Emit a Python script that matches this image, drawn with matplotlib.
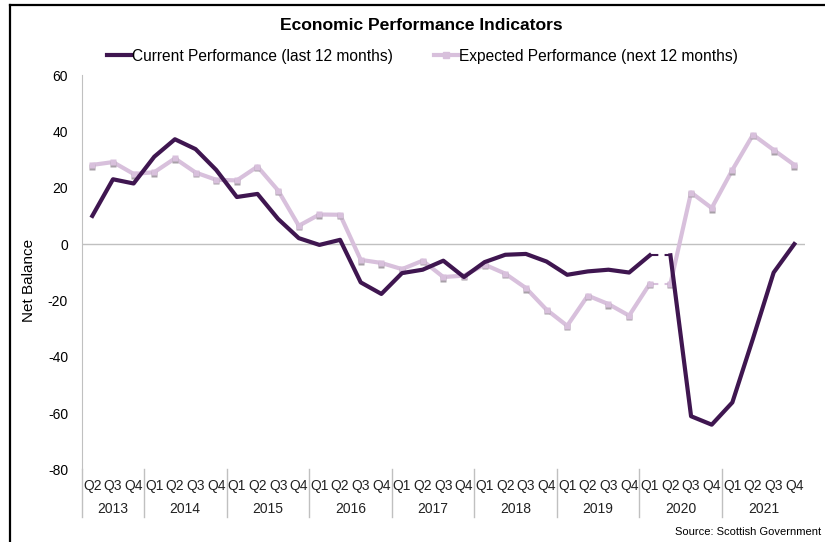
import numpy as np
import matplotlib
matplotlib.use("Agg")
import matplotlib.pyplot as plt
import matplotlib.transforms as mtransforms
from matplotlib.lines import Line2D

plt.rcParams['font.family'] = ['Liberation Sans', 'DejaVu Sans']
plt.rcParams['axes.unicode_minus'] = False

# quarters from Q2 2013 to Q4 2021
years = ['2013', '2014', '2015', '2016', '2017', '2018', '2019', '2020', '2021']
quarters = ['Q2', 'Q3', 'Q4'] + ['Q1', 'Q2', 'Q3', 'Q4'] * 8

current = [10, 23, 21.5, 31, 37.2, 33.7, 26.3, 16.7, 17.8, 8.9, 2.1, -0.3,
           1.5, -13.6, -17.7, -10.3, -9.1, -5.9, -11.7, -6.4, -3.8, -3.5, -6.2,
           -10.9, -9.7, -9.1, -10.1, -4.0, -4.0, -61.1, -64.1, -56.2, -33.5,
           -10.1, 0]
expected = [28.1, 29.1, 24.9, 25.5, 30.4, 25.4, 22.8, 22.6, 27.5, 19.0, 6.5,
            10.5, 10.4, -5.6, -6.7, -8.9, -5.9, -11.7, -11.2, -7.3, -10.5,
            -15.6, -23.3, -29.0, -18.3, -21.3, -25.4, -14.1, -14.1, 18.3, 12.8,
            26.3, 38.8, 33.4, 28.1]
gap = 27  # Q1 2020 -> Q2 2020 drawn dashed

col_cur = '#3f1650'
col_exp = '#d8c0dc'

x = np.arange(len(quarters))

fig = plt.figure(figsize=(8.25, 5.42), dpi=100)
ax = fig.add_axes([0.0994, 0.1338, 0.8759, 0.7278])

ax.axhline(0, color='#c0c0c0', lw=1, zorder=1)

# current performance
ax.plot(x[:gap + 1], current[:gap + 1], color=col_cur, lw=3, zorder=3,
        solid_joinstyle='round')
ax.plot(x[gap:gap + 2], current[gap:gap + 2], color=col_cur, lw=1.5,
        ls=(0, (4, 3)), zorder=3)
ax.plot(x[gap + 1:], current[gap + 1:], color=col_cur, lw=3, zorder=3,
        solid_joinstyle='round')

# expected performance
ax.plot(x[:gap + 1], expected[:gap + 1], color=col_exp, lw=3, zorder=2)
ax.plot(x[gap:gap + 2], expected[gap:gap + 2], color=col_exp, lw=1.5,
        ls=(0, (4, 3)), zorder=2)
ax.plot(x[gap + 1:], expected[gap + 1:], color=col_exp, lw=3, zorder=2)
shadow = mtransforms.offset_copy(ax.transData, fig=fig, x=0, y=-1.2, units='points')
ax.plot(x, expected, ls='none', marker='s', ms=4.3, color='#a8a0a8',
        mec='none', transform=shadow, zorder=2)
ax.plot(x, expected, ls='none', marker='s', ms=4.3, color=col_exp,
        mec='none', zorder=2)

ax.set_xlim(-0.5, len(quarters) - 0.5)
ax.set_ylim(-80, 60)
ax.set_yticks(np.arange(-80, 61, 20))
ax.tick_params(axis='y', length=0, labelsize=10, pad=10)
ax.set_xticks([])
for s in ['top', 'right', 'bottom']:
    ax.spines[s].set_visible(False)
ax.spines['left'].set_color('#c0c0c0')
ax.spines['left'].set_bounds(-80, 60)

# category labels below the plot
tr = ax.get_xaxis_transform()
for i, q in enumerate(quarters):
    ax.text(i, -0.042, q, transform=tr, ha='center', va='center',
            fontsize=10, color='#222222', clip_on=False)
starts = [0] + [3 + 4 * k for k in range(8)]
ends = starts[1:] + [len(quarters)]
for yr, s, e in zip(years, starts, ends):
    ax.text((s + e - 1) / 2, -0.10, yr, transform=tr, ha='center', va='center',
            fontsize=10, color='#222222', clip_on=False)
for s in starts:
    ax.plot([s - 0.5, s - 0.5], [0, -0.12], transform=tr, color='#c0c0c0',
            lw=1, clip_on=False)

ax.set_ylabel('Net Balance', fontsize=11)
ax.yaxis.set_label_coords(-0.063, 0.48)

fig.text(0.511, 1 - 26 / 542, 'Economic Performance Indicators', ha='center',
         va='center', fontsize=12.6, fontweight='bold')

handles = [Line2D([], [], color=col_cur, lw=3),
           Line2D([], [], color=col_exp, lw=3, marker='s', ms=4.3)]
fig.legend(handles, ['Current Performance (last 12 months)',
                     'Expected Performance (next 12 months)'],
           loc='center', bbox_to_anchor=(0.512, 1 - 56 / 542), ncol=2,
           frameon=False, fontsize=11.2, handlelength=1.6, handletextpad=0.05,
           columnspacing=2.6)

fig.text(0.995, 1 - 532 / 542, 'Source: Scottish Government', ha='right',
         va='center', fontsize=8)

# outer frame
fig.add_artist(Line2D([10 / 825, 10 / 825], [0, 1 - 5 / 542], color='black',
                      lw=1.6, transform=fig.transFigure))
fig.add_artist(Line2D([10 / 825, 1], [1 - 5 / 542, 1 - 5 / 542], color='black',
                      lw=1.6, transform=fig.transFigure))

fig.savefig('out.png', dpi=100)
